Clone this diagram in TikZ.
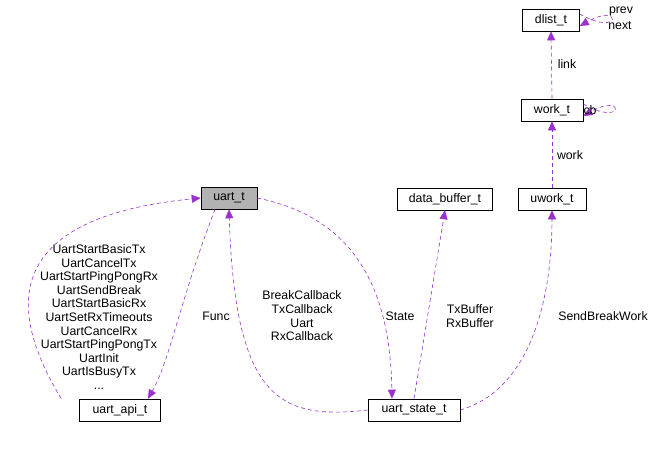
\documentclass[tikz,border=0pt]{standalone}
\usepackage{fontspec}
\setmainfont{Liberation Sans}
\usetikzlibrary{arrows.meta}
\definecolor{edgepurple}{HTML}{9A32CD}
\begin{document}
\begin{tikzpicture}[x=1pt,y=-1pt,
font=\fontsize{12.3}{13.6}\selectfont,
cls/.style={rectangle,draw=black,fill=white,semithick,minimum height=22pt,inner xsep=5pt,inner sep=2pt},
link/.style={-{Triangle[length=9pt,width=8pt,fill=edgepurple]},draw=edgepurple,dash pattern=on 4pt off 3pt,semithick},
lbl/.style={align=center,inner sep=1pt}
]
\useasboundingbox (0,0) rectangle (657,455);
\node[cls,fill=black!30,minimum width=56pt] (uart) at (229,198) {uart\_t};
\node[cls,minimum width=57pt] (dlist) at (551,20) {dlist\_t};
\node[cls,minimum width=62pt] (work) at (552,110) {work\_t};
\node[cls,minimum width=68pt] (uwork) at (552,199) {uwork\_t};
\node[cls,minimum width=95pt] (buf) at (445,199) {data\_buffer\_t};
\node[cls,minimum width=81pt] (api) at (120,410) {uart\_api\_t};
\node[cls,minimum width=92pt] (state) at (414,410) {uart\_state\_t};

\draw[link] (api.north west) ++(-18,0) .. controls (20,330) and (-20,220) .. (uart.west);
\draw[link] ([xshift=-14pt]uart.south) .. controls (180,300) and (170,360) .. ([xshift=28pt]api.north);
\draw[link] (state.west) .. controls (280,420) and (235,400) .. (uart.south);
\draw[link] (uart.east) .. controls (340,215) and (390,270) .. ([xshift=-22pt]state.north);
\draw[link] (state.north) -- (buf.south);
\draw[link] (state.east) .. controls (530,390) and (552,300) .. (uwork.south);
\draw[link] (uwork.north) -- (work.south);
\draw[link] (work.north) -- (dlist.south);
\draw[link] ([yshift=6pt]work.east) .. controls (625,128) and (625,92) .. ([yshift=-6pt]work.east);
\draw[link] ([yshift=6pt]dlist.east) .. controls (622,38) and (622,2) .. ([yshift=-6pt]dlist.east);

\node[lbl] (lapi) at (99,317) {UartStartBasicTx\\UartCancelTx\\UartStartPingPongRx\\UartSendBreak\\UartStartBasicRx\\UartSetRxTimeouts\\UartCancelRx\\UartStartPingPongTx\\UartInit\\UartIsBusyTx\\...};
\node[lbl] (lfunc) at (216,316) {Func};
\node[lbl] (lcb) at (302,316) {BreakCallback\\TxCallback\\Uart\\RxCallback};
\node[lbl] (lstate) at (400,316) {State};
\node[lbl] (lbuf) at (470,316) {TxBuffer\\RxBuffer};
\node[lbl] (lsend) at (603,316) {SendBreakWork};
\node[lbl] (lwork) at (570,155) {work};
\node[lbl] (llink) at (567,64) {link};
\node[lbl] (lcbw) at (590,110) {cb};
\node[lbl] (lprev) at (621,11) {prev};
\node[lbl] (lnext) at (620,26) {next};
\end{tikzpicture}
\end{document}
